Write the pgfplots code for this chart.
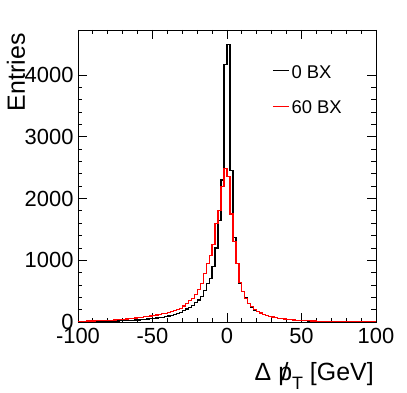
\documentclass[border=0pt]{standalone}
\usepackage{fontspec}
\setmainfont{Liberation Sans}
\usepackage{pgfplots}
\usepackage{pgfplotstable}
\pgfplotsset{compat=1.18}

% bin lower edge, entries (2 GeV bins)
\pgfplotstableread{
lo n
-100 6
-98 6
-96 7
-94 7
-92 8
-90 8
-88 9
-86 10
-84 11
-82 12
-80 13
-78 14
-76 15
-74 17
-72 19
-70 21
-68 23
-66 25
-64 28
-62 31
-60 34
-58 38
-56 42
-54 47
-52 52
-50 58
-48 64
-46 71
-44 79
-42 88
-40 98
-38 110
-36 123
-34 140
-32 160
-30 185
-28 210
-26 240
-24 272
-22 310
-20 355
-18 410
-16 510
-14 620
-12 710
-10 900
-8 1200
-6 1650
-4 2300
-2 4170
0 4500
2 2460
4 1370
6 950
8 630
10 500
12 390
14 300
16 240
18 195
20 165
22 140
24 120
26 105
28 90
30 78
32 68
34 60
36 52
38 46
40 40
42 35
44 31
46 27
48 24
50 21
52 19
54 17
56 15
58 13
60 12
62 11
64 10
66 9
68 8
70 7
72 7
74 6
76 6
78 5
80 5
82 5
84 4
86 4
88 4
90 3
92 3
94 3
96 3
98 3
100 3
}\zerobx

\pgfplotstableread{
lo n
-100 12
-98 13
-96 14
-94 15
-92 16
-90 17
-88 19
-86 21
-84 23
-82 25
-80 27
-78 30
-76 33
-74 36
-72 40
-70 44
-68 48
-66 53
-64 58
-62 64
-60 70
-58 76
-56 83
-54 90
-52 98
-50 106
-48 115
-46 124
-44 134
-42 142
-40 150
-38 165
-36 180
-34 200
-32 225
-30 260
-28 300
-26 345
-24 385
-22 440
-20 520
-18 630
-16 790
-14 950
-12 1080
-10 1250
-8 1600
-6 1800
-4 2200
-2 2490
0 2350
2 1750
4 1300
6 950
8 640
10 490
12 380
14 300
16 245
18 200
20 170
22 145
24 125
26 108
28 93
30 80
32 70
34 62
36 54
38 48
40 42
42 37
44 33
46 29
48 26
50 23
52 21
54 19
56 17
58 15
60 13
62 12
64 11
66 10
68 9
70 8
72 8
74 7
76 7
78 6
80 6
82 5
84 5
86 5
88 4
90 4
92 4
94 4
96 3
98 3
100 3
}\sixtybx

\newcommand\slp{\ooalign{\hidewidth/\hidewidth\cr p}}

\begin{document}
\begin{tikzpicture}
\begin{axis}[
  scale only axis, width=298bp, height=292bp,
  xmin=-100, xmax=100, ymin=0, ymax=4729,
  xtick={-100,-50,0,50,100}, minor x tick num=4,
  ytick={0,1000,2000,3000,4000}, minor y tick num=4,
  tick align=inside, tick pos=both,
  major tick length=9bp, minor tick length=4.5bp,
  axis line style={line width=0.8bp},
  every tick/.style={line width=0.8bp, black},
  /pgf/number format/assume math mode=true,
  /pgf/number format/1000 sep={},
  tick label style={font=\fontsize{22}{24}\selectfont},
  xticklabel style={yshift=-3bp},
  yticklabel style={xshift=-1bp},
  xlabel={Δ \slp\raisebox{-0.35em}{\fontsize{18}{18}\selectfont T} [GeV]},
  xlabel style={at={(rel axis cs:1.004,-0.202)}, anchor=base east,
    font=\fontsize{25}{28}\selectfont},
  ylabel={Entries},
  ylabel style={at={(rel axis cs:-0.208,1)}, anchor=east, rotate=0,
    font=\fontsize{25}{28}\selectfont},
]
\addplot[const plot mark left, black, line width=1.2bp] table[x=lo, y=n] {\zerobx};
\addplot[const plot mark left, red, line width=1.2bp] table[x=lo, y=n] {\sixtybx};
% legend
\draw[black, line width=1bp] (rel axis cs:0.654,0.861) -- (rel axis cs:0.708,0.861);
\node[anchor=west, inner sep=0pt, font=\fontsize{18.5}{20}\selectfont]
  at (rel axis cs:0.716,0.856) {0 BX};
\draw[red, line width=1bp] (rel axis cs:0.654,0.737) -- (rel axis cs:0.708,0.737);
\node[anchor=west, inner sep=0pt, font=\fontsize{18.5}{20}\selectfont]
  at (rel axis cs:0.716,0.735) {60 BX};
\coordinate (SW) at (rel axis cs:0,0);
\coordinate (NE) at (rel axis cs:1,1);
\end{axis}
\pgfresetboundingbox
\path[use as bounding box] ([shift={(-78bp,-71bp)}]SW) rectangle ([shift={(31bp,30bp)}]NE);
\end{tikzpicture}
\end{document}
